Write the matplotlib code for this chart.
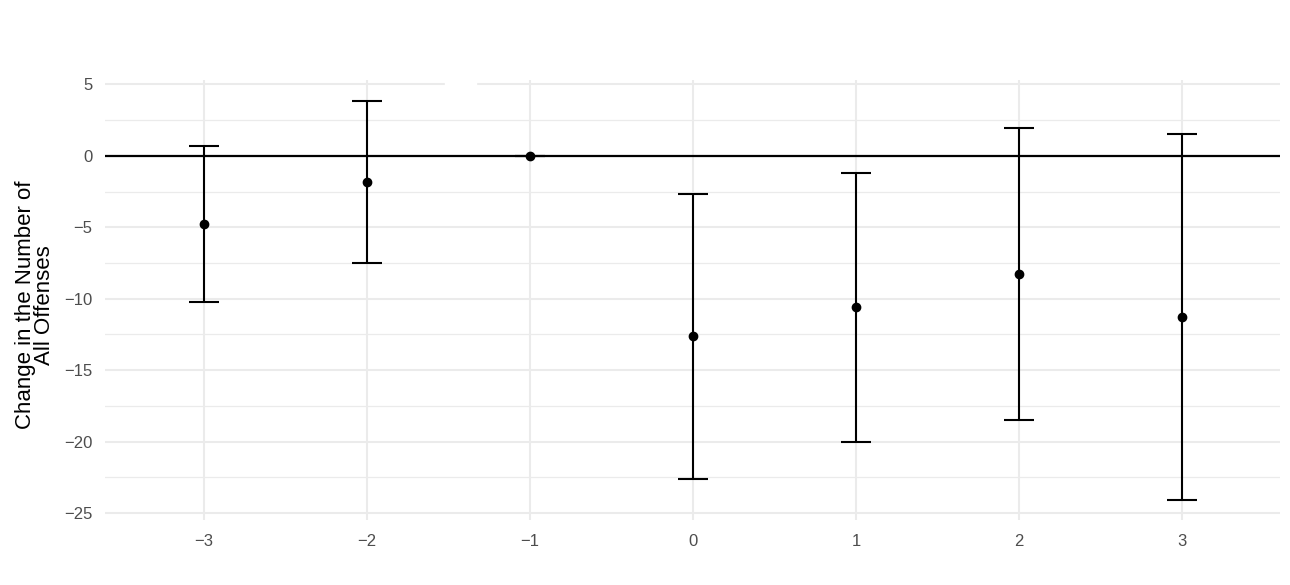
import matplotlib.pyplot as plt
from matplotlib.patches import Rectangle
import numpy as np

plt.rcParams["font.family"] = ["Liberation Sans", "DejaVu Sans"]

# event time, point estimate, confidence bounds
periods = [-3, -2, -1, 0, 1, 2, 3]
estimates = [-4.75, -1.8, 0.0, -12.6, -10.55, -8.25, -11.3]
upper = [0.7, 3.85, 0.0, -2.65, -1.2, 1.95, 1.55]
lower = [-10.2, -7.5, 0.0, -22.6, -20.0, -18.5, -24.1]
yticks = [-25, -20, -15, -10, -5, 0, 5]

fig = plt.figure(figsize=(12.9, 5.85), dpi=100)
ax = fig.add_axes([0.0814, 0.111, 0.911, 0.752])

est = np.array(estimates)
err = [est - np.array(lower), np.array(upper) - est]

ax.axhline(0, color="black", lw=1.6, zorder=2)
ax.errorbar(periods, est, yerr=err, fmt="o", color="black", ms=6,
            elinewidth=1.5, capsize=11, capthick=1.5, zorder=3)

ax.set_xlim(-3.607, 3.6)
ax.set_ylim(-25.5, 5.3)
ax.set_xticks(periods)
ax.set_xticklabels([f"\u2212{abs(p)}" if p < 0 else str(p) for p in periods])
ax.set_yticks(yticks)
ax.set_yticklabels([f"\u2212{abs(v)}" if v < 0 else str(v) for v in yticks])
ax.set_yticks(np.arange(-22.5, 5, 5), minor=True)

ax.grid(True, which="major", color="#EBEBEB", lw=1.5, zorder=0)
ax.grid(True, which="minor", axis="y", color="#EBEBEB", lw=0.9, zorder=0)
ax.set_axisbelow(True)
for s in ax.spines.values():
    s.set_visible(False)
ax.tick_params(which="both", length=0, labelsize=12, labelcolor="#4D4D4D")
ax.tick_params(axis="y", pad=9)
ax.tick_params(axis="x", pad=10)

# small white gap in top gridline
ax.add_patch(Rectangle((-1.52, 4.6), 0.19, 0.8, color="white", zorder=1, clip_on=False))

ax.set_ylabel("Change in the Number of\nAll Offenses", fontsize=16, linespacing=0.9)
ax.yaxis.set_label_coords(-0.0426, 0.489)

fig.savefig("out.png", dpi=100)
